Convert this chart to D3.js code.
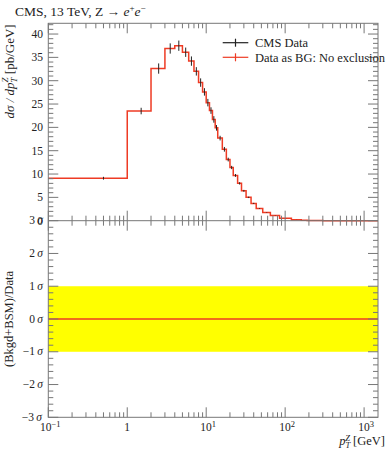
<!DOCTYPE html>
<html>
<head>
<meta charset="utf-8">
<script src="https://cdn.jsdelivr.net/npm/d3@7/dist/d3.min.js"></script>
<style>
  html, body { margin: 0; padding: 0; background: #fff; }
  svg text { font-family: "Liberation Serif", "DejaVu Serif", serif; fill: #222; }
</style>
</head>
<body>
<div id="chart"></div>
<script>
(function (d3) {
    'use strict';

    // bin edges of the pT(Z) histogram [GeV]
    var binEdges = [0, 1, 2, 3, 4, 5, 6, 7, 8, 9, 10, 11, 12, 13, 14, 16, 18, 20, 22, 25, 28,
        32, 37, 43, 52, 65, 85, 120, 160, 190, 220, 250, 300, 400, 500, 800, 1500];

    // CMS data, dsigma/dpT [pb/GeV]
    var dataValues = [9.1, 23.5, 32.6, 36.9, 37.5, 36.1, 34.2, 32.0, 29.6, 27.6, 25.3, 23.6,
        21.7, 19.9, 17.7, 15.3, 13.1, 11.4, 9.7, 8.0, 6.4, 5.0, 3.7, 2.6, 1.75, 1.1, 0.5,
        0.23, 0.1, 0.06, 0.035, 0.018, 0.007, 0.003, 0.001, 0.0002];
    var dataErrors = [0.3, 0.7, 1.1, 1.1, 1.1, 1.0, 1.0, 0.9, 0.9, 0.8, 0.8, 0.7,
        0.7, 0.6, 0.5, 0.5, 0.4, 0.35, 0.3, 0.25, 0.2, 0.15, 0.12, 0.08, 0.06, 0.04, 0.02,
        0.01, 0.005, 0.003, 0.002, 0.001, 0.0005, 0.0002, 0.0001, 0.00002];

    // "Data as BG: No exclusion" = the data itself
    var bgValues = dataValues.slice();

    // significance of (Bkgd+BSM) w.r.t. data, per bin
    var pullValues = binEdges.slice(1).map(function () { return 0; });

    var topTicks = [5, 10, 15, 20, 25, 30, 35, 40];
    var sigmaTicks = [-3, -2, -1, 0, 1, 2, 3];
    var decadeTicks = [-1, 0, 1, 2, 3];

    var width = 389, height = 450;
    var left = 48.3, right = 378, top = 23.3, mid = 220.7, bottom = 417.3;
    var frameColor = '#777', red = '#ee3b24';

    var svg = d3.select('#chart').append('svg')
        .attr('width', width)
        .attr('height', height);

    var x = d3.scaleLog().domain([0.1, 1500]).range([left, right]);
    var yTop = d3.scaleLinear().domain([0, 42.3]).range([mid, top]);
    var yBot = d3.scaleLinear().domain([-3, 3]).range([bottom, mid]);

    function clampX(v) {
        return x(Math.max(v, x.domain()[0]));
    }

    // log ticks: majors on decades, minors 2..9
    var majorX = decadeTicks.map(function (k) { return Math.pow(10, k); });
    var minorX = [];
    decadeTicks.forEach(function (k) {
        for (var m = 2; m <= 9; m++) {
            var v = m * Math.pow(10, k);
            if (v <= x.domain()[1]) minorX.push(v);
        }
    });

    // ---------- lower panel band ----------
    svg.append('rect')
        .attr('x', left)
        .attr('y', yBot(1))
        .attr('width', right - left)
        .attr('height', yBot(-1) - yBot(1))
        .attr('fill', '#ffff00');

    // ---------- red histogram ----------
    var stepPts = bgValues.map(function (v, i) { return [binEdges[i], v]; });
    stepPts.push([binEdges[binEdges.length - 1], bgValues[bgValues.length - 1]]);

    var stepLine = d3.line()
        .x(function (d) { return clampX(d[0]); })
        .y(function (d) { return yTop(d[1]); })
        .curve(d3.curveStepAfter);

    svg.append('path')
        .attr('d', stepLine(stepPts))
        .attr('fill', 'none')
        .attr('stroke', red)
        .attr('stroke-width', 1.5);

    // ---------- data error bars (black) ----------
    var points = dataValues.map(function (v, i) {
        var lo = binEdges[i], hi = binEdges[i + 1];
        return { c: (lo + hi) / 2, v: v, e: dataErrors[i] };
    });

    svg.append('g').selectAll('line')
        .data(points)
        .enter()
        .append('line')
        .attr('x1', function (d) { return x(d.c); })
        .attr('x2', function (d) { return x(d.c); })
        .attr('y1', function (d) { return yTop(d.v - d.e); })
        .attr('y2', function (d) { return yTop(d.v + d.e); })
        .attr('stroke', '#222')
        .attr('stroke-width', 1);

    // ---------- lower panel line ----------
    var pullPts = pullValues.map(function (v, i) { return [binEdges[i], v]; });
    pullPts.push([x.domain()[1], pullValues[pullValues.length - 1]]);
    var pullLine = d3.line()
        .x(function (d) { return clampX(d[0]); })
        .y(function (d) { return yBot(d[1]); })
        .curve(d3.curveStepAfter);
    svg.append('path')
        .attr('d', pullLine(pullPts))
        .attr('fill', 'none')
        .attr('stroke', red)
        .attr('stroke-width', 1.5);

    // ---------- frames ----------
    var axes = svg.append('g')
        .attr('stroke', frameColor)
        .attr('stroke-width', 1)
        .attr('fill', 'none');

    axes.append('rect')
        .attr('x', left).attr('y', top)
        .attr('width', right - left).attr('height', bottom - top);
    axes.append('line')
        .attr('x1', left).attr('x2', right)
        .attr('y1', mid).attr('y2', mid);

    function tickLines(data, fn) {
        axes.append('g').selectAll('line')
            .data(data)
            .enter()
            .append('line')
            .each(function (d) {
                var c = fn(d);
                d3.select(this)
                    .attr('x1', c[0]).attr('y1', c[1])
                    .attr('x2', c[2]).attr('y2', c[3]);
            });
    }

    // x ticks, on all horizontal frame lines, pointing inward
    [[top, 1], [mid, -1], [mid, 1], [bottom, -1]].forEach(function (p) {
        tickLines(majorX, function (v) { return [x(v), p[0], x(v), p[0] + p[1] * 10]; });
        tickLines(minorX, function (v) { return [x(v), p[0], x(v), p[0] + p[1] * 5]; });
    });

    // upper y ticks
    var topMinor = d3.range(1, 43).filter(function (v) { return v % 5 !== 0; });
    [[left, 1], [right, -1]].forEach(function (p) {
        tickLines(topTicks, function (v) { return [p[0], yTop(v), p[0] + p[1] * 10, yTop(v)]; });
        tickLines(topMinor, function (v) { return [p[0], yTop(v), p[0] + p[1] * 5, yTop(v)]; });
    });

    // lower y ticks
    var sigmaMinor = d3.range(-30, 31, 2).map(function (v) { return v / 10; })
        .filter(function (v) { return Math.abs(v - Math.round(v)) > 0.01; });
    [[left, 1], [right, -1]].forEach(function (p) {
        tickLines(sigmaTicks, function (v) { return [p[0], yBot(v), p[0] + p[1] * 10, yBot(v)]; });
        tickLines(sigmaMinor, function (v) { return [p[0], yBot(v), p[0] + p[1] * 5, yBot(v)]; });
    });

    // ---------- tick labels ----------
    var labels = svg.append('g').attr('font-size', 11.5);

    labels.selectAll('text.ytop')
        .data([0].concat(topTicks))
        .enter()
        .append('text')
        .attr('class', 'ytop')
        .attr('x', 43)
        .attr('y', function (d) { return yTop(d) + 4; })
        .attr('text-anchor', 'end')
        .text(function (d) { return d; });

    var sl = labels.selectAll('text.ybot')
        .data(sigmaTicks)
        .enter()
        .append('text')
        .attr('class', 'ybot')
        .attr('x', function (d) { return d === -3 ? 42 : 43; })
        .attr('y', function (d) { return yBot(d) + 3.5; })
        .attr('text-anchor', 'end');
    sl.append('tspan').text(function (d) { return (d < 0 ? '\u2212' : '') + Math.abs(d) + '\u2009'; });
    sl.append('tspan').attr('font-style', 'italic').text('\u03c3');

    var xl = labels.selectAll('text.x')
        .data(decadeTicks)
        .enter()
        .append('text')
        .attr('class', 'x')
        .attr('x', function (d) { return x(Math.pow(10, d)) + (d === 0 ? 0 : 2); })
        .attr('y', 430.5)
        .attr('text-anchor', 'middle');
    xl.each(function (d) {
        var t = d3.select(this);
        if (d === 0) {
            t.text('1');
        } else {
            t.append('tspan').text('10');
            t.append('tspan').attr('dy', -4).attr('font-size', 8.5)
                .text(d < 0 ? '\u2212' + Math.abs(d) : d);
        }
    });

    // ---------- axis titles ----------
    var title = svg.append('text')
        .attr('x', 15)
        .attr('y', 16)
        .attr('font-size', 13.5);
    title.append('tspan').text('CMS, 13 TeV, Z \u2192 ');
    title.append('tspan').attr('font-style', 'italic').text('e');
    title.append('tspan').attr('dy', -5).attr('font-size', 9).text('+');
    title.append('tspan').attr('dy', 5).attr('font-style', 'italic').text('e');
    title.append('tspan').attr('dy', -5).attr('font-size', 9).text('\u2212');

    var yt = svg.append('text')
        .attr('transform', 'translate(14,' + (top + 1) + ') rotate(-90)')
        .attr('text-anchor', 'end')
        .attr('font-size', 13);
    yt.append('tspan').attr('font-style', 'italic').text('d\u03c3 / dp');
    yt.append('tspan').attr('dy', 3).attr('font-size', 9).attr('font-style', 'italic').text('T');
    yt.append('tspan').attr('dx', -5).attr('dy', -9).attr('font-size', 9).attr('font-style', 'italic').text('Z');
    yt.append('tspan').attr('dy', 6).text(' [pb/GeV]');

    svg.append('text')
        .attr('transform', 'translate(13,' + yBot(0) + ') rotate(-90)')
        .attr('text-anchor', 'middle')
        .attr('font-size', 12.5)
        .text('(Bkgd+BSM)/Data');

    var xt = svg.append('text')
        .attr('x', 385)
        .attr('y', 445)
        .attr('text-anchor', 'end')
        .attr('font-size', 12.5);
    xt.append('tspan').attr('font-style', 'italic').text('p');
    xt.append('tspan').attr('dy', 2.5).attr('font-size', 8.5).attr('font-style', 'italic').text('T');
    xt.append('tspan').attr('dx', -5).attr('dy', -7).attr('font-size', 8.5).attr('font-style', 'italic').text('Z');
    xt.append('tspan').attr('dy', 4.5).text(' [GeV]');

    // ---------- legend ----------
    var legend = [
        { label: 'CMS Data', color: '#222', y: 42.7 },
        { label: 'Data as BG: No exclusion', color: red, y: 57.3 }
    ];
    var lg = svg.append('g').selectAll('g')
        .data(legend)
        .enter()
        .append('g');
    lg.append('line')
        .attr('x1', 222.7).attr('x2', 248.3)
        .attr('y1', function (d) { return d.y; })
        .attr('y2', function (d) { return d.y; })
        .attr('stroke', function (d) { return d.color; })
        .attr('stroke-width', 1.2);
    lg.append('line')
        .attr('x1', 235.5).attr('x2', 235.5)
        .attr('y1', function (d) { return d.y - 4; })
        .attr('y2', function (d) { return d.y + 4; })
        .attr('stroke', function (d) { return d.color; })
        .attr('stroke-width', 1.2);
    lg.append('text')
        .attr('x', 255)
        .attr('y', function (d) { return d.y + 4.5; })
        .attr('font-size', 12.5)
        .attr('textLength', function (d, i) { return i === 1 ? 130 : null; })
        .text(function (d) { return d.label; });

})(d3);
</script>
</body>
</html>
